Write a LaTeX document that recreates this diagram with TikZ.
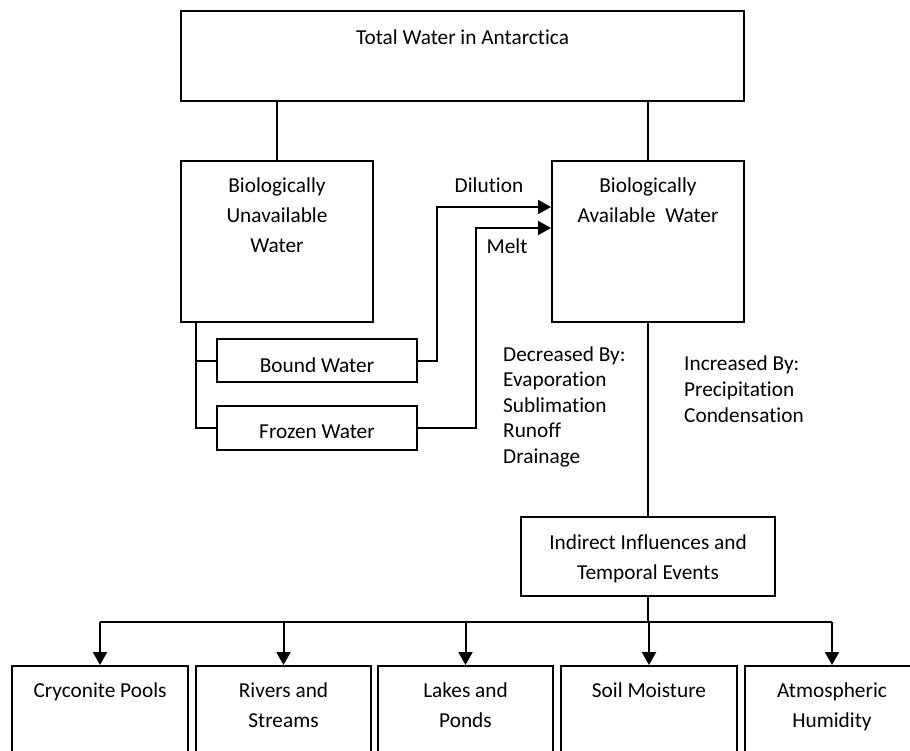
\documentclass[tikz,border=0pt]{standalone}
\usepackage{fontspec}
\setmainfont[Ligatures=NoCommon]{Carlito}
\usetikzlibrary{arrows.meta}
\newcommand\mylinesc[1]{\begin{tabular}[t]{@{}c@{}}#1\end{tabular}}
\newcommand\mylinesl[1]{\begin{tabular}[t]{@{}l@{}}#1\end{tabular}}
\begin{document}
\begin{tikzpicture}[x=1pt,y=-1pt,
  box/.style={draw, line width=2pt, inner sep=0pt},
  txt/.style={font=\fontsize{21.3}{30}\selectfont, inner sep=0pt, anchor=base},
  listtxt/.style={font=\fontsize{21.3}{25.5}\selectfont, inner sep=0pt, anchor=base west},
  con/.style={line width=2pt},
  arr/.style={con, -{Triangle[length=13pt,width=14pt]}}]
\useasboundingbox (0,0) rectangle (910,751);
\fill[white] (0,0) rectangle (910,751);
\clip (0,0) rectangle (910,751);

% boxes
\node[box, minimum width=563pt, minimum height=90pt]  (top)      at (462.5,56)   {};
\node[box, minimum width=192pt, minimum height=161pt] (unav)     at (277,241.5)  {};
\node[box, minimum width=192pt, minimum height=161pt] (avail)    at (648,241.5)  {};
\node[box, minimum width=200pt, minimum height=43pt]  (bound)    at (317,360.5)  {};
\node[box, minimum width=200pt, minimum height=44pt]  (frozen)   at (317,428)    {};
\node[box, minimum width=254pt, minimum height=79pt]  (indirect) at (648,556.5)  {};
\node[box, minimum width=176pt, minimum height=120pt] (cry)      at (100,726)    {};
\node[box, minimum width=175pt, minimum height=120pt] (rivers)   at (283.5,726)  {};
\node[box, minimum width=175pt, minimum height=120pt] (lakes)    at (465.5,726)  {};
\node[box, minimum width=176pt, minimum height=120pt] (soil)     at (649,726)    {};
\node[box, minimum width=174pt, minimum height=120pt] (atmos)    at (832,726)    {};

% texts
\node[txt] (ttop)    at (462.5,45) {Total Water in Antarctica};
\node[txt] (tunav)   at (277,193)  {\mylinesc{Biologically\\Unavailable\\Water}};
\node[txt] (tavail)  at (648,193)  {\mylinesc{Biologically\\Available~ Water}};
\node[txt] (tbound)  at (317,372)  {Bound Water};
\node[txt] (tfrozen) at (317,438)  {Frozen Water};
\node[txt] (tdil)    at (489,193)  {Dilution};
\node[txt] (tmelt)   at (507,254)  {Melt};
\node[listtxt] (tdec) at (503,361) {\mylinesl{Decreased By:\\Evaporation\\Sublimation\\Runoff\\Drainage}};
\node[txt, font=\fontsize{21.3}{26}\selectfont, anchor=base west] (tinc) at (684,370) {\mylinesl{Increased By:\\Precipitation\\Condensation}};
\node[txt] (tind)    at (648,549)  {\mylinesc{Indirect Influences and\\Temporal Events}};
\node[txt] (tcry)    at (100,697)  {Cryconite Pools};
\node[txt] (triv)    at (283.5,697) {\mylinesc{Rivers and\\Streams}};
\node[txt] (tlak)    at (465.5,697) {\mylinesc{Lakes and\\Ponds}};
\node[txt] (tsoil)   at (649,697)  {Soil Moisture};
\node[txt] (tatm)    at (832,697)  {\mylinesc{Atmospheric\\Humidity}};

% connectors
\draw[con] (top.south -| unav.north) -- (unav.north);
\draw[con] (top.south -| avail.north) -- (avail.north);
\coordinate (bx) at (196,0);
\draw[con] (unav.south -| bx) |- (frozen.west);
\draw[con] (bound.west -| bx) -- (bound.west);
\draw[arr] (bound.east) -- ++(19,0) |- ([yshift=34.5pt]avail.west);
\draw[arr] (frozen.east) -- ++(58,0) |- ([yshift=13.5pt]avail.west);
\draw[con] (avail.south) -- (indirect.north);
\coordinate (bar) at (648,622);
\draw[con] (indirect.south) -- (bar);
\draw[con] (bar -| cry.north) -- (bar -| atmos.north);
\foreach \n in {cry,rivers,lakes,soil,atmos}
  \draw[arr] (bar -| \n.north) -- (\n.north);
\end{tikzpicture}
\end{document}
